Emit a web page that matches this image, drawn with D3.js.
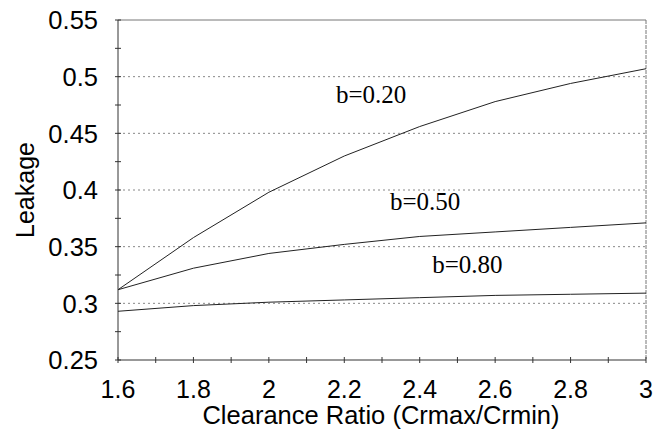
<!DOCTYPE html>
<html><head><meta charset="utf-8">
<script src="https://cdn.jsdelivr.net/npm/d3@7/dist/d3.min.js"></script>
<style>body{margin:0;background:#fff}svg{display:block}</style>
</head><body>
<script>
const xValues = [1.6, 1.8, 2.0, 2.2, 2.4, 2.6, 2.8, 3.0];
const seriesB020 = [0.312, 0.358, 0.398, 0.430, 0.456, 0.478, 0.494, 0.507];
const seriesB050 = [0.312, 0.331, 0.344, 0.352, 0.359, 0.363, 0.367, 0.371];
const seriesB080 = [0.293, 0.298, 0.301, 0.303, 0.305, 0.307, 0.308, 0.309];
const seriesNames = ["b=0.20", "b=0.50", "b=0.80"];
const labelAnchors = [[2.178, 0.4765], [2.321, 0.3823], [2.433, 0.3267]];
const xTicks = [1.6, 1.8, 2, 2.2, 2.4, 2.6, 2.8, 3];
const yTicks = [0.25, 0.3, 0.35, 0.4, 0.45, 0.5, 0.55];
const xTitle = "Clearance Ratio (Crmax/Crmin)";
const yTitle = "Leakage";

const W = 663, H = 433;
const m = {left: 118, right: 17, top: 20, bottom: 73};
const svg = d3.select("body").append("svg").attr("width", W).attr("height", H);
const x = d3.scaleLinear().domain([1.6, 3]).range([m.left, W - m.right]);
const y = d3.scaleLinear().domain([0.25, 0.55]).range([H - m.bottom, m.top]);

// gridlines
svg.append("g").selectAll("line").data(yTicks.filter(v => v > 0.26 && v < 0.54)).join("line")
  .attr("x1", x(1.6)).attr("x2", x(3)).attr("y1", d => y(d)).attr("y2", d => y(d))
  .attr("stroke", "#888").attr("stroke-width", 1).attr("stroke-dasharray", "2,3");

// frame top/right
svg.append("line").attr("x1", x(1.6)).attr("x2", x(3)).attr("y1", y(0.55)).attr("y2", y(0.55))
  .attr("stroke", "#777").attr("stroke-width", 1);
svg.append("line").attr("x1", x(3)).attr("x2", x(3)).attr("y1", y(0.55)).attr("y2", y(0.25))
  .attr("stroke", "#777").attr("stroke-width", 1).attr("stroke-dasharray", "4,1");

const font = "Arial, 'Liberation Sans', sans-serif";
// x axis
const xMinor = d3.range(16, 31).map(v => v / 10);
const gx = svg.append("g").attr("transform", `translate(0,${y(0.25)})`);
gx.append("line").attr("x1", x(1.6)).attr("x2", x(3)).attr("stroke", "#333");
gx.selectAll(".mt").data(xMinor).join("line").attr("x1", d => x(d)).attr("x2", d => x(d))
  .attr("y1", -3).attr("y2", 3).attr("stroke", "#333");
gx.selectAll("text").data(xTicks).join("text").attr("x", d => x(d)).attr("y", 38)
  .attr("text-anchor", "middle").attr("font-family", font).attr("font-size", 25)
  .text(d => d3.format("")(d));

// y axis
const yMinor = d3.range(0, 13).map(i => 0.25 + i * 0.025);
const gy = svg.append("g").attr("transform", `translate(${x(1.6)},0)`);
gy.append("line").attr("y1", y(0.25)).attr("y2", y(0.55)).attr("stroke", "#333");
gy.selectAll(".mt").data(yMinor).join("line").attr("y1", d => y(d)).attr("y2", d => y(d))
  .attr("x1", -3).attr("x2", 3).attr("stroke", "#333");
gy.selectAll("text").data(yTicks).join("text").attr("x", -20).attr("y", d => y(d)).attr("dy", "0.36em")
  .attr("text-anchor", "end").attr("font-family", font).attr("font-size", 25.5)
  .text(d => d3.format("")(d));

// series
const line = d3.line().x((d, i) => x(xValues[i])).y(d => y(d));
[seriesB020, seriesB050, seriesB080].forEach(s => {
  svg.append("path").attr("d", line(s)).attr("fill", "none").attr("stroke", "#222").attr("stroke-width", 1);
});
seriesNames.forEach((n, i) => {
  svg.append("text").attr("x", x(labelAnchors[i][0])).attr("y", y(labelAnchors[i][1]))
    .attr("font-family", "'Liberation Serif', 'Times New Roman', serif").attr("font-size", 25).text(n);
});

// titles
svg.append("text").attr("x", 381).attr("y", 424).attr("text-anchor", "middle")
  .attr("font-family", font).attr("font-size", 25.5).text(xTitle);
svg.append("text").attr("transform", `translate(34,190) rotate(-90)`)
  .attr("text-anchor", "middle").attr("font-family", font).attr("font-size", 25).text(yTitle);
</script>
</body></html>
